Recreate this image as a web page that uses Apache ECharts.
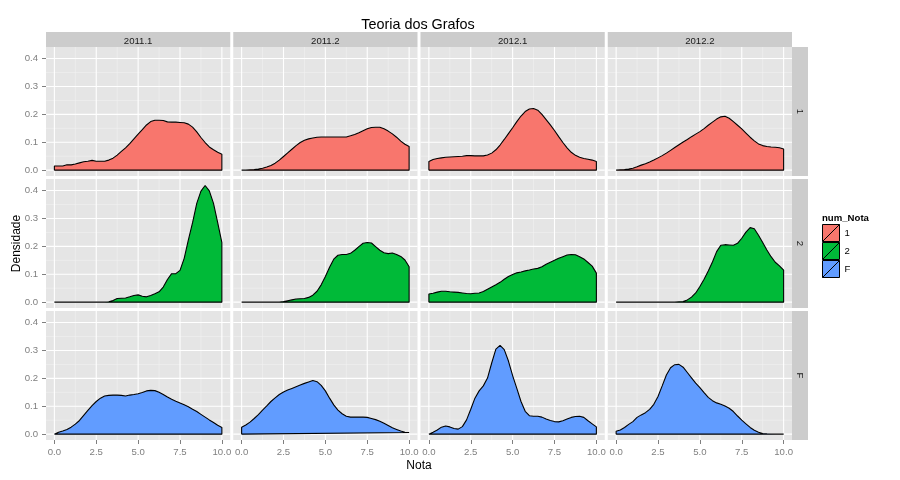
<!DOCTYPE html>
<html>
<head>
<meta charset="utf-8">
<script src="https://cdn.jsdelivr.net/npm/echarts@6/dist/echarts.min.js"></script>
<style>
html, body { margin: 0; padding: 0; background: #fff; }
#chart { width: 900px; height: 480px; }
</style>
</head>
<body>
<div id="chart"></div>
<script>
// eixo x das densidades (notas de 0 a 10)
var notas = [0, 0.25, 0.5, 0.75, 1, 1.25, 1.5, 1.75, 2, 2.25, 2.5, 2.75, 3, 3.25, 3.5, 3.75,
    4, 4.25, 4.5, 4.75, 5, 5.25, 5.5, 5.75, 6, 6.25, 6.5, 6.75, 7, 7.25, 7.5, 7.75,
    8, 8.25, 8.5, 8.75, 9, 9.25, 9.5, 9.75, 10];
var semestres = ['2011.1', '2011.2', '2012.1', '2012.2'];
var grupos = ['1', '2', 'F'];
var cores = ['#F8766D', '#00BA38', '#619CFF'];
var ticksX = [0, 2.5, 5, 7.5, 10];
var ticksY = [0, 0.1, 0.2, 0.3, 0.4];
var minorX = [1.25, 3.75, 6.25, 8.75];
var minorY = [0.05, 0.15, 0.25, 0.35];

// num_Nota = 1
var dens1_20111 = [0.015, 0.015, 0.015, 0.019, 0.019, 0.022, 0.026, 0.030, 0.032, 0.035, 0.032, 0.032, 0.032, 0.036, 0.043, 0.054,
    0.067, 0.080, 0.095, 0.112, 0.129, 0.145, 0.162, 0.174, 0.179, 0.179, 0.178, 0.173, 0.172, 0.172, 0.171, 0.170,
    0.165, 0.154, 0.137, 0.117, 0.099, 0.083, 0.073, 0.064, 0.057];
var dens1_20112 = [0, 0, 0.001, 0.002, 0.004, 0.007, 0.011, 0.017, 0.025, 0.036, 0.049, 0.062, 0.075, 0.088, 0.099, 0.107,
    0.112, 0.115, 0.118, 0.119, 0.119, 0.119, 0.119, 0.119, 0.119, 0.119, 0.123, 0.128, 0.134, 0.141, 0.148, 0.153,
    0.154, 0.154, 0.148, 0.140, 0.130, 0.118, 0.104, 0.093, 0.085];
var dens1_20121 = [0.031, 0.038, 0.042, 0.044, 0.046, 0.047, 0.048, 0.049, 0.050, 0.052, 0.052, 0.051, 0.051, 0.051, 0.054, 0.061,
    0.073, 0.090, 0.110, 0.131, 0.152, 0.174, 0.194, 0.210, 0.219, 0.221, 0.215, 0.200, 0.181, 0.162, 0.142, 0.120,
    0.099, 0.080, 0.064, 0.053, 0.046, 0.042, 0.039, 0.036, 0.031];
var dens1_20122 = [0, 0.001, 0.002, 0.004, 0.007, 0.012, 0.018, 0.023, 0.029, 0.036, 0.044, 0.052, 0.061, 0.071, 0.081, 0.091,
    0.101, 0.110, 0.120, 0.129, 0.138, 0.149, 0.161, 0.172, 0.183, 0.191, 0.193, 0.186, 0.174, 0.161, 0.148, 0.133,
    0.118, 0.105, 0.094, 0.088, 0.085, 0.083, 0.082, 0.080, 0.076];
// num_Nota = 2
var dens2_20111 = [0, 0, 0, 0, 0, 0, 0, 0, 0, 0, 0, 0, 0, 0.001, 0.006, 0.013,
    0.014, 0.015, 0.019, 0.024, 0.026, 0.021, 0.019, 0.024, 0.030, 0.037, 0.054, 0.081, 0.102, 0.102, 0.114, 0.157,
    0.223, 0.285, 0.354, 0.398, 0.418, 0.399, 0.354, 0.285, 0.213];
var dens2_20112 = [0, 0, 0, 0, 0, 0, 0, 0, 0, 0, 0.002, 0.005, 0.008, 0.011, 0.012, 0.013,
    0.017, 0.025, 0.039, 0.062, 0.092, 0.125, 0.154, 0.168, 0.171, 0.171, 0.175, 0.186, 0.199, 0.211, 0.214, 0.212,
    0.199, 0.186, 0.177, 0.174, 0.176, 0.171, 0.164, 0.151, 0.127];
var dens2_20121 = [0.029, 0.032, 0.036, 0.039, 0.039, 0.037, 0.036, 0.035, 0.033, 0.031, 0.030, 0.032, 0.033, 0.038, 0.046, 0.054,
    0.062, 0.071, 0.082, 0.092, 0.099, 0.105, 0.108, 0.112, 0.115, 0.119, 0.121, 0.127, 0.136, 0.143, 0.150, 0.157,
    0.163, 0.169, 0.171, 0.170, 0.163, 0.155, 0.142, 0.129, 0.104];
var dens2_20122 = [0, 0, 0, 0, 0, 0, 0, 0, 0, 0, 0, 0, 0, 0, 0, 0.001,
    0.002, 0.008, 0.018, 0.033, 0.056, 0.082, 0.112, 0.144, 0.181, 0.204, 0.206, 0.205, 0.204, 0.211, 0.229, 0.251,
    0.267, 0.263, 0.240, 0.214, 0.187, 0.163, 0.143, 0.130, 0.115];
// num_Nota = F
var densF_20111 = [0.006, 0.007, 0.011, 0.017, 0.025, 0.036, 0.049, 0.067, 0.085, 0.102, 0.117, 0.129, 0.137, 0.139, 0.140, 0.140,
    0.139, 0.137, 0.140, 0.142, 0.145, 0.149, 0.155, 0.157, 0.156, 0.150, 0.142, 0.133, 0.125, 0.118, 0.112, 0.105,
    0.098, 0.089, 0.081, 0.071, 0.061, 0.051, 0.042, 0.032, 0.024];
var densF_20112 = [0.025, 0.033, 0.043, 0.056, 0.070, 0.086, 0.101, 0.117, 0.130, 0.142, 0.151, 0.158, 0.164, 0.170, 0.176, 0.182,
    0.187, 0.192, 0.188, 0.175, 0.155, 0.129, 0.105, 0.086, 0.073, 0.064, 0.061, 0.061, 0.061, 0.061, 0.060, 0.056,
    0.052, 0.046, 0.039, 0.031, 0.023, 0.017, 0.011, 0.007, 0.006];
var densF_20121 = [0.002, 0.007, 0.015, 0.025, 0.029, 0.026, 0.020, 0.018, 0.027, 0.051, 0.089, 0.129, 0.155, 0.173, 0.201, 0.255,
    0.305, 0.318, 0.303, 0.262, 0.210, 0.164, 0.117, 0.082, 0.066, 0.064, 0.064, 0.061, 0.054, 0.049, 0.045, 0.044,
    0.048, 0.054, 0.060, 0.063, 0.064, 0.060, 0.048, 0.037, 0.026];
var densF_20122 = [0.010, 0.015, 0.024, 0.035, 0.045, 0.060, 0.069, 0.077, 0.089, 0.107, 0.135, 0.173, 0.212, 0.238, 0.249, 0.250,
    0.240, 0.221, 0.202, 0.183, 0.167, 0.149, 0.132, 0.120, 0.112, 0.107, 0.101, 0.093, 0.081, 0.065, 0.050, 0.037,
    0.024, 0.014, 0.007, 0.002, 0.001, 0.0005, 0, 0, 0];

var densidades = [
    [dens1_20111, dens1_20112, dens1_20121, dens1_20122],
    [dens2_20111, dens2_20112, dens2_20121, dens2_20122],
    [densF_20111, densF_20112, densF_20121, densF_20122]
];

var fonte = '"Liberation Sans", Arial, sans-serif';
var x0 = 46, y0 = 47;          // canto do primeiro painel
var painelW = 184.25, painelH = 129;
var passoX = 187.25, passoY = 132;

// linhas de grade: [0 = vertical / 1 = horizontal, valor, 1 = principal]
var linhasGrade = [];
minorX.forEach(function (v) { linhasGrade.push([0, v, 0]); });
minorY.forEach(function (v) { linhasGrade.push([1, v, 0]); });
ticksX.forEach(function (v) { linhasGrade.push([0, v, 1]); });
ticksY.forEach(function (v) { linhasGrade.push([1, v, 1]); });

function desenhaGrade(params, api) {
    var cs = params.coordSys;
    var v = api.value(1);
    var principal = api.value(2) === 1;
    var shape;
    if (api.value(0) === 0) {
        var px = api.coord([v, 0])[0];
        shape = { x1: px, y1: cs.y, x2: px, y2: cs.y + cs.height };
    } else {
        var py = api.coord([0, v])[1];
        shape = { x1: cs.x, y1: py, x2: cs.x + cs.width, y2: py };
    }
    return {
        type: 'line',
        shape: shape,
        silent: true,
        style: { stroke: principal ? '#FFFFFF' : '#F2F2F2', lineWidth: principal ? 1.1 : 0.6 }
    };
}

var grids = [], xAxes = [], yAxes = [], series = [], graficos = [];

for (var r = 0; r < grupos.length; r++) {
    for (var c = 0; c < semestres.length; c++) {
        var idx = grids.length;
        grids.push({
            left: x0 + c * passoX,
            top: y0 + r * passoY,
            width: painelW,
            height: painelH,
            show: true,
            backgroundColor: '#E5E5E5',
            borderWidth: 0
        });
        xAxes.push({
            gridIndex: idx,
            type: 'value',
            min: -0.5,
            max: 10.5,
            axisLine: { show: false, onZero: false },
            splitLine: { show: false },
            axisTick: { show: r === grupos.length - 1, customValues: ticksX, length: 4, lineStyle: { color: '#7F7F7F', width: 1 } },
            axisLabel: {
                show: r === grupos.length - 1,
                customValues: ticksX,
                margin: 7,
                color: '#7F7F7F',
                fontSize: 9.6,
                fontFamily: fonte,
                formatter: function (v) { return v.toFixed(1); }
            }
        });
        yAxes.push({
            gridIndex: idx,
            type: 'value',
            min: -0.021,
            max: 0.4414,
            axisLine: { show: false, onZero: false },
            splitLine: { show: false },
            axisTick: { show: c === 0, customValues: ticksY, length: 4, lineStyle: { color: '#7F7F7F', width: 1 } },
            axisLabel: {
                show: c === 0,
                customValues: ticksY,
                margin: 8,
                color: '#7F7F7F',
                fontSize: 9.6,
                fontFamily: fonte,
                formatter: function (v) { return v.toFixed(1); }
            }
        });

        // grade por baixo da densidade
        series.push({
            type: 'custom',
            xAxisIndex: idx,
            yAxisIndex: idx,
            z: 1,
            silent: true,
            renderItem: desenhaGrade,
            data: linhasGrade
        });

        // poligono da densidade (fechado na base, como o geom_density)
        var dens = densidades[r][c];
        var pontos = [[notas[0], 0]];
        for (var k = 0; k < notas.length; k++) {
            pontos.push([notas[k], dens[k]]);
        }
        pontos.push([notas[notas.length - 1], 0]);
        pontos.push([notas[0], 0]);
        series.push({
            type: 'line',
            name: grupos[r],
            xAxisIndex: idx,
            yAxisIndex: idx,
            z: 2,
            silent: true,
            data: pontos,
            symbol: 'none',
            showSymbol: false,
            lineStyle: { color: '#000000', width: 1.1 },
            itemStyle: { color: cores[r] },
            areaStyle: { color: cores[r], opacity: 1 }
        });
    }
}

// faixas dos facets (semestre em cima, num_Nota na direita)
semestres.forEach(function (s, c) {
    graficos.push({ type: 'rect', shape: { x: x0 + c * passoX, y: 32, width: painelW, height: 15 }, style: { fill: '#CCCCCC' } });
    graficos.push({
        type: 'text', x: x0 + c * passoX + painelW / 2, y: 41,
        style: { text: s, fill: '#1A1A1A', font: '9.6px ' + fonte, align: 'center', verticalAlign: 'middle' }
    });
});
grupos.forEach(function (g, r) {
    var topo = y0 + r * passoY;
    graficos.push({ type: 'rect', shape: { x: x0 + 3 * passoX + painelW, y: topo, width: 16, height: painelH }, style: { fill: '#CCCCCC' } });
    graficos.push({
        type: 'text', x: x0 + 3 * passoX + painelW + 7.5, y: topo + painelH / 2, rotation: -Math.PI / 2,
        style: { text: g, fill: '#1A1A1A', font: '9.6px ' + fonte, align: 'center', verticalAlign: 'middle' }
    });
});

// titulos
graficos.push({
    type: 'text', x: 418, y: 25,
    style: { text: 'Teoria dos Grafos', fill: '#000', font: '14.4px ' + fonte, align: 'center', verticalAlign: 'middle' }
});
graficos.push({
    type: 'text', x: 419, y: 466,
    style: { text: 'Nota', fill: '#000', font: '12px ' + fonte, align: 'center', verticalAlign: 'middle' }
});
graficos.push({
    type: 'text', x: 17, y: 243.5, rotation: Math.PI / 2,
    style: { text: 'Densidade', fill: '#000', font: '12px ' + fonte, align: 'center', verticalAlign: 'middle' }
});
graficos.push({
    type: 'text', x: 822, y: 218,
    style: { text: 'num_Nota', fill: '#000', font: 'bold 9.6px ' + fonte, align: 'left', verticalAlign: 'middle' }
});

var myChart = echarts.init(document.getElementById('chart'));
var option = {
    animation: false,
    backgroundColor: '#FFFFFF',
    grid: grids,
    xAxis: xAxes,
    yAxis: yAxes,
    legend: {
        orient: 'vertical',
        left: 822,
        top: 224,
        padding: 0,
        itemWidth: 17,
        itemHeight: 17,
        itemGap: 0,
        selectedMode: false,
        icon: 'path://M0,0L17,0L17,17L0,17Z M0,17L17,0',
        textStyle: { fontFamily: fonte, fontSize: 9.6, color: '#000' },
        data: grupos.map(function (g, r) {
            return { name: g, itemStyle: { color: cores[r], borderColor: '#000000', borderWidth: 1 } };
        })
    },
    graphic: graficos,
    series: series
};
if (option && typeof option === "object") {
    myChart.setOption(option, true);
}
</script>
</body>
</html>
